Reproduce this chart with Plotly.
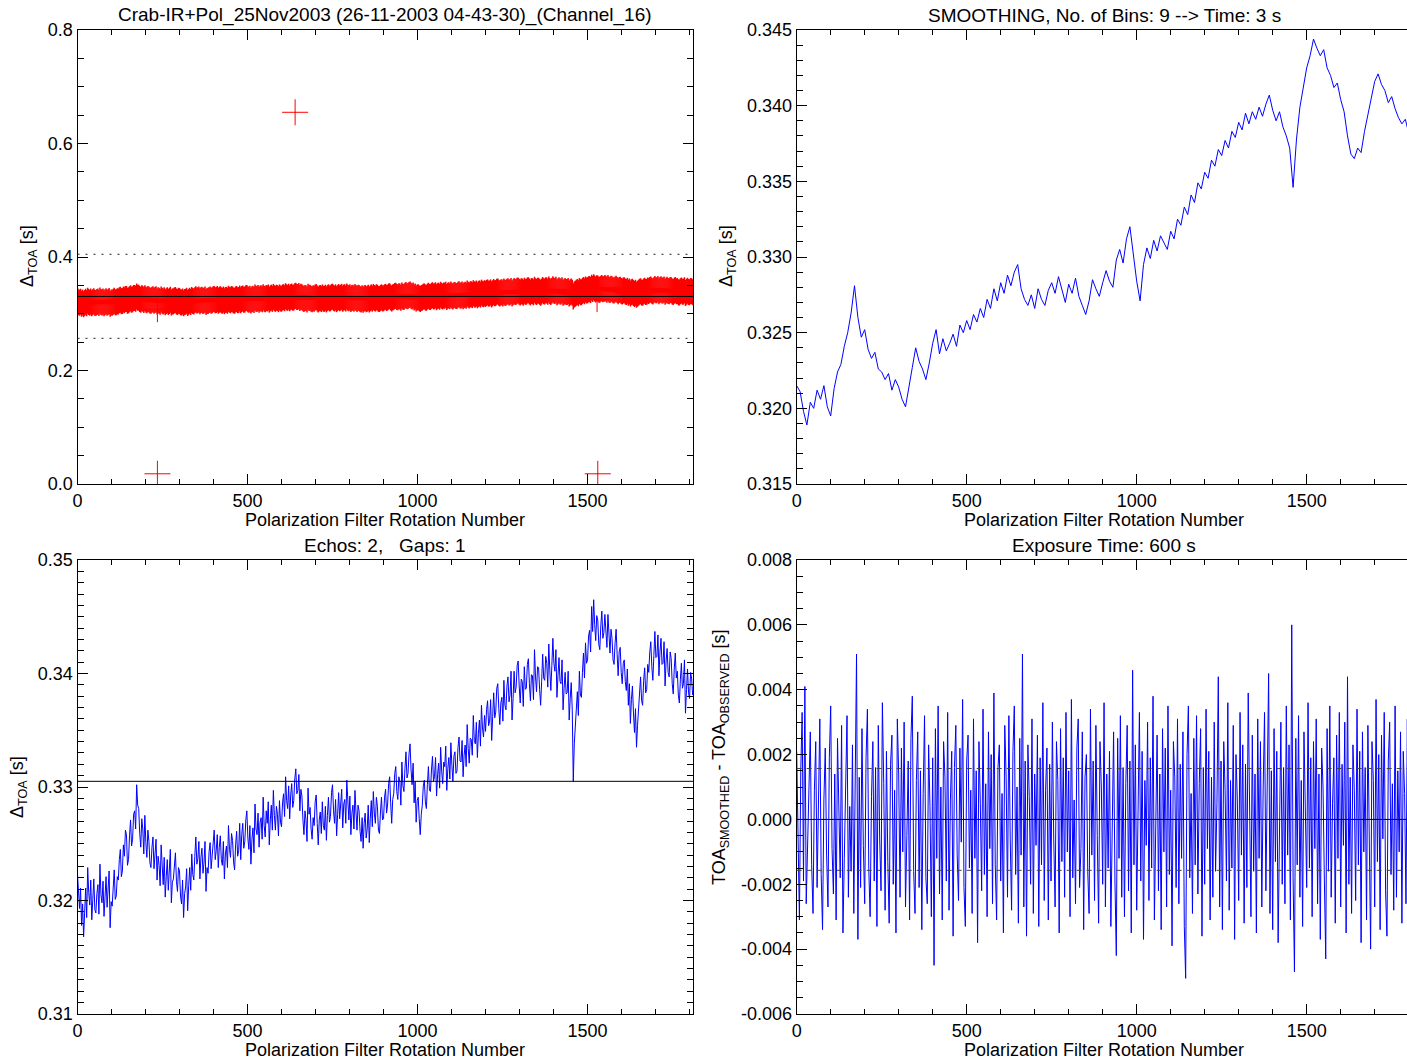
import plotly.graph_objects as go

# ---------------- data ----------------
# rotation numbers of the observed time-of-arrival differences
rotation_raw = list(range(0, 1810, 3))
delta_toa_raw = [
    0.3223, 0.3204, 0.3193, 0.3211, 0.3178, 0.3197, 0.3168, 0.3189, 0.3211, 0.3185, 0.3229, 0.3207, 0.3196, 0.3218, 0.3183, 0.3201, 0.3219, 0.3192, 0.3189, 0.3206,
    0.3214, 0.3188, 0.3232, 0.3205, 0.3198, 0.3217, 0.3186, 0.3203, 0.3221, 0.3194, 0.3209, 0.3226, 0.3176, 0.3199, 0.3195, 0.3213, 0.3227, 0.3201, 0.3204, 0.3221,
    0.3218, 0.3236, 0.3245, 0.3221, 0.3226, 0.3249, 0.3239, 0.3262, 0.3258, 0.3231, 0.3236, 0.3257, 0.3271, 0.3248, 0.3254, 0.3276, 0.3279, 0.3263, 0.3302, 0.3284,
    0.3281, 0.3259, 0.3247, 0.3272, 0.3263, 0.3241, 0.3275, 0.3251, 0.3238, 0.3262, 0.3252, 0.3233, 0.3229, 0.3247, 0.3256, 0.3228, 0.3241, 0.3254, 0.3218, 0.3239,
    0.3231, 0.3213, 0.3249, 0.3227, 0.3214, 0.3238, 0.3203, 0.3221, 0.3236, 0.3209, 0.3226, 0.3245, 0.3198, 0.3216, 0.3219, 0.3233, 0.3242, 0.3217, 0.3208, 0.3229,
    0.3226, 0.3204, 0.3197, 0.3218, 0.3185, 0.3206, 0.3212, 0.3228, 0.3191, 0.3213, 0.3229, 0.3209, 0.3241, 0.3223, 0.3218, 0.3239, 0.3256, 0.3232, 0.3237, 0.3252,
    0.3219, 0.3238, 0.3246, 0.3224, 0.3233, 0.3252, 0.3208, 0.3229, 0.3224, 0.3243, 0.3251, 0.3228, 0.3239, 0.3257, 0.3262, 0.3236, 0.3244, 0.3258, 0.3229, 0.3247,
    0.3257, 0.3236, 0.3231, 0.3252, 0.3219, 0.3241, 0.3248, 0.3229, 0.3266, 0.3245, 0.3238, 0.3259, 0.3253, 0.3234, 0.3227, 0.3249, 0.3261, 0.3239, 0.3244, 0.3268,
    0.3236, 0.3258, 0.3268, 0.3246, 0.3252, 0.3271, 0.3279, 0.3255, 0.3245, 0.3266, 0.3232, 0.3254, 0.3264, 0.3242, 0.3285, 0.3263, 0.3258, 0.3277, 0.3247, 0.3269,
    0.3273, 0.3254, 0.3291, 0.3266, 0.3256, 0.3279, 0.3268, 0.3287, 0.3249, 0.3271, 0.3284, 0.3262, 0.3297, 0.3275, 0.3262, 0.3283, 0.3276, 0.3257, 0.3288, 0.3269,
    0.3265, 0.3286, 0.3294, 0.3274, 0.3309, 0.3288, 0.3281, 0.3301, 0.3272, 0.3293, 0.3303, 0.3282, 0.3288, 0.3307, 0.3316, 0.3294, 0.3297, 0.3311, 0.3279, 0.3298,
    0.3292, 0.3271, 0.3258, 0.3279, 0.3271, 0.3252, 0.3299, 0.3276, 0.3282, 0.3263, 0.3254, 0.3273, 0.3266, 0.3287, 0.3293, 0.3268, 0.3249, 0.3271, 0.3278, 0.3259,
    0.3287, 0.3266, 0.3262, 0.3283, 0.3253, 0.3275, 0.3291, 0.3269, 0.3274, 0.3295, 0.3302, 0.3279, 0.3268, 0.3289, 0.3257, 0.3276, 0.3295, 0.3272, 0.3283, 0.3298,
    0.3264, 0.3285, 0.3289, 0.3268, 0.3306, 0.3283, 0.3271, 0.3292, 0.3258, 0.3277, 0.3284, 0.3263, 0.3297, 0.3278, 0.3262, 0.3284, 0.3279, 0.3261, 0.3252, 0.3273,
    0.3246, 0.3268, 0.3277, 0.3255, 0.3263, 0.3284, 0.3251, 0.3272, 0.3288, 0.3265, 0.3296, 0.3277, 0.3268, 0.3291, 0.3283, 0.3262, 0.3259, 0.3278, 0.3291, 0.3271,
    0.3272, 0.3291, 0.3298, 0.3277, 0.3285, 0.3303, 0.3309, 0.3286, 0.3268, 0.3289, 0.3294, 0.3312, 0.3318, 0.3296, 0.3289, 0.3309, 0.3305, 0.3284, 0.3322, 0.3301,
    0.3296, 0.3316, 0.3331, 0.3308, 0.3312, 0.3329, 0.3338, 0.3315, 0.3302, 0.3321, 0.3286, 0.3305, 0.3269, 0.3288, 0.3291, 0.3272, 0.3258, 0.3276, 0.3284, 0.3301,
    0.3306, 0.3287, 0.3281, 0.3302, 0.3318, 0.3297, 0.3296, 0.3315, 0.3327, 0.3305, 0.3309, 0.3326, 0.3292, 0.3311, 0.3321, 0.3299, 0.3335, 0.3314, 0.3303, 0.3322,
    0.3318, 0.3336, 0.3297, 0.3316, 0.3326, 0.3307, 0.3339, 0.3319, 0.3305, 0.3327, 0.3331, 0.3312, 0.3314, 0.3335, 0.3344, 0.3323, 0.3322, 0.3341, 0.3309, 0.3328,
    0.3337, 0.3318, 0.3355, 0.3334, 0.3321, 0.3343, 0.3342, 0.3328, 0.3363, 0.3341, 0.3338, 0.3357, 0.3326, 0.3347, 0.3359, 0.3336, 0.3372, 0.3352, 0.3344, 0.3363,
    0.3349, 0.3368, 0.3376, 0.3354, 0.3358, 0.3377, 0.3341, 0.3362, 0.3383, 0.3361, 0.3366, 0.3387, 0.3391, 0.3369, 0.3355, 0.3374, 0.3379, 0.3358, 0.3394, 0.3372,
    0.3368, 0.3389, 0.3397, 0.3375, 0.3381, 0.3402, 0.3359, 0.3378, 0.3402, 0.3383, 0.3388, 0.3407, 0.3411, 0.3389, 0.3374, 0.3395, 0.3393, 0.3371, 0.3406, 0.3386,
    0.3387, 0.3408, 0.3413, 0.3391, 0.3376, 0.3399, 0.3398, 0.3377, 0.3421, 0.3397, 0.3384, 0.3406, 0.3405, 0.3386, 0.3372, 0.3393, 0.3417, 0.3396, 0.3394, 0.3415,
    0.3409, 0.3388, 0.3426, 0.3403, 0.3385, 0.3407, 0.3431, 0.3409, 0.3402, 0.3421, 0.3379, 0.3398, 0.3414, 0.3393, 0.3391, 0.3412, 0.3368, 0.3387, 0.3401, 0.3382,
    0.3383, 0.3402, 0.3359, 0.3378, 0.3392, 0.3368, 0.3305, 0.3338, 0.3351, 0.3372, 0.3384, 0.3363, 0.3402, 0.3381, 0.3379, 0.3401, 0.3418, 0.3396, 0.3427, 0.3409,
    0.3412, 0.3433, 0.3438, 0.3419, 0.3459, 0.3437, 0.3465, 0.3443, 0.3429, 0.3451, 0.3447, 0.3426, 0.3421, 0.3442, 0.3455, 0.3431, 0.3436, 0.3452, 0.3441, 0.3423,
    0.3452, 0.3429, 0.3418, 0.3439, 0.3431, 0.3412, 0.3408, 0.3427, 0.3439, 0.3417, 0.3398, 0.3419, 0.3423, 0.3401, 0.3391, 0.3409, 0.3412, 0.3393, 0.3385, 0.3404,
    0.3372, 0.3391, 0.3356, 0.3377, 0.3389, 0.3366, 0.3348, 0.3369, 0.3335, 0.3354, 0.3368, 0.3387, 0.3397, 0.3376, 0.3372, 0.3394, 0.3405, 0.3383, 0.3386, 0.3408,
    0.3401, 0.3419, 0.3428, 0.3406, 0.3394, 0.3416, 0.3437, 0.3414, 0.3415, 0.3434, 0.3398, 0.3419, 0.3431, 0.3408, 0.3409, 0.3428, 0.3389, 0.3411, 0.3422, 0.3401,
    0.3397, 0.3419, 0.3413, 0.3391, 0.3382, 0.3404, 0.3418, 0.3396, 0.3402, 0.3381, 0.3374, 0.3395, 0.3409, 0.3387, 0.3391, 0.3412, 0.3365, 0.3386, 0.3404, 0.3383,
    0.3378, 0.3401, 0.3396, 0.3381,
]

# smoothed curve (9-bin running mean)
rotation_smooth = list(range(0, 1811, 10))
delta_toa_smooth = [
    0.3215, 0.3211, 0.3198, 0.3189, 0.3204, 0.3200, 0.3212, 0.3206, 0.3215, 0.3201,
    0.3195, 0.3213, 0.3224, 0.3229, 0.3241, 0.3250, 0.3263, 0.3281, 0.3260, 0.3247,
    0.3252, 0.3239, 0.3233, 0.3237, 0.3226, 0.3224, 0.3219, 0.3223, 0.3212, 0.3219,
    0.3214, 0.3206, 0.3201, 0.3213, 0.3227, 0.3240, 0.3231, 0.3226, 0.3219, 0.3230,
    0.3243, 0.3252, 0.3236, 0.3246, 0.3238, 0.3243, 0.3249, 0.3241, 0.3255, 0.3250,
    0.3258, 0.3252, 0.3262, 0.3257, 0.3266, 0.3260, 0.3272, 0.3266, 0.3279, 0.3271,
    0.3283, 0.3276, 0.3288, 0.3281, 0.3290, 0.3295, 0.3279, 0.3272, 0.3268, 0.3275,
    0.3266, 0.3279, 0.3272, 0.3268, 0.3278, 0.3283, 0.3276, 0.3287, 0.3279, 0.3270,
    0.3282, 0.3276, 0.3286, 0.3274, 0.3268, 0.3262, 0.3271, 0.3285, 0.3279, 0.3274,
    0.3283, 0.3291, 0.3284, 0.3280, 0.3298, 0.3305, 0.3296, 0.3312, 0.3320, 0.3303,
    0.3284, 0.3271, 0.3295, 0.3306, 0.3299, 0.3311, 0.3304, 0.3314, 0.3309, 0.3305,
    0.3317, 0.3312, 0.3325, 0.3321, 0.3333, 0.3328, 0.3341, 0.3336, 0.3349, 0.3345,
    0.3356, 0.3352, 0.3364, 0.3360, 0.3371, 0.3367, 0.3377, 0.3372, 0.3383, 0.3379,
    0.3389, 0.3384, 0.3395, 0.3388, 0.3396, 0.3391, 0.3399, 0.3393, 0.3401, 0.3407,
    0.3397, 0.3390, 0.3396, 0.3386, 0.3380, 0.3372, 0.3346, 0.3378, 0.3399, 0.3412,
    0.3425, 0.3433, 0.3444, 0.3438, 0.3433, 0.3437, 0.3425, 0.3420, 0.3412, 0.3415,
    0.3404, 0.3396, 0.3380, 0.3368, 0.3365, 0.3372, 0.3369, 0.3383, 0.3394, 0.3405,
    0.3416, 0.3421, 0.3414, 0.3410, 0.3402, 0.3406, 0.3398, 0.3392, 0.3388, 0.3391,
    0.3382, 0.3376,
]

# residuals: smoothed minus observed
rotation_resid = list(range(0, 1809, 4))
toa_residual = [
    0.0021, -0.0008, -0.0031, 0.0015, 0.0033, -0.0019, 0.0041, -0.0026, -0.0006, 0.0018,
    0.0027, -0.0014, -0.0029, 0.0009, 0.0024, -0.0021, 0.0012, 0.0031, -0.0017, -0.0034,
    0.0006, 0.0022, -0.0011, -0.0027, 0.0019, 0.0035, -0.0009, -0.0023, 0.0014, -0.0031,
    0.0025, 0.0008, -0.0018, 0.0029, -0.0035, -0.0012, 0.0017, 0.0032, -0.0024, 0.0004,
    -0.0016, 0.0023, -0.0029, 0.0011, 0.0051, -0.0037, 0.0013, -0.0021, 0.0028, -0.0008,
    -0.0026, 0.0019, 0.0034, -0.0015, -0.0030, 0.0007, 0.0024, -0.0019, 0.0016, -0.0033,
    0.0029, -0.0006, -0.0022, 0.0036, 0.0011, -0.0028, 0.0021, -0.0013, -0.0032, 0.0017,
    0.0026, -0.0020, 0.0009, -0.0035, 0.0031, 0.0014, -0.0024, 0.0022, -0.0010, 0.0030,
    -0.0027, -0.0005, 0.0018, -0.0031, 0.0025, 0.0038, -0.0016, -0.0029, 0.0012, 0.0027,
    -0.0021, 0.0015, -0.0034, 0.0008, 0.0032, -0.0018, -0.0026, 0.0023, 0.0004, -0.0030,
    0.0019, -0.0045, 0.0028, -0.0012, 0.0035, -0.0023, 0.0010, -0.0031, 0.0024, 0.0013,
    -0.0019, 0.0033, -0.0028, 0.0006, 0.0021, -0.0036, 0.0016, 0.0029, -0.0011, -0.0025,
    0.0022, -0.0007, 0.0037, -0.0021, -0.0033, 0.0018, 0.0026, -0.0015, 0.0009, -0.0029,
    0.0031, -0.0012, 0.0015, -0.0038, 0.0024, 0.0005, -0.0022, 0.0034, -0.0017, 0.0011,
    -0.0030, 0.0027, -0.0009, 0.0020, -0.0026, 0.0039, -0.0014, -0.0031, 0.0016, 0.0023,
    -0.0019, 0.0008, -0.0035, 0.0029, 0.0013, -0.0024, 0.0032, -0.0006, -0.0028, 0.0021,
    0.0035, -0.0017, 0.0010, -0.0032, 0.0025, -0.0011, 0.0051, -0.0027, 0.0018, -0.0036,
    0.0023, 0.0007, -0.0020, 0.0031, -0.0029, 0.0014, -0.0008, 0.0026, -0.0033, 0.0019,
    -0.0014, 0.0036, -0.0025, 0.0009, 0.0022, -0.0031, 0.0017, -0.0019, 0.0030, -0.0006,
    -0.0027, 0.0024, 0.0012, -0.0035, 0.0028, -0.0013, 0.0019, -0.0024, 0.0033, -0.0010,
    0.0015, -0.0030, 0.0037, -0.0018, 0.0006, -0.0026, 0.0022, 0.0031, -0.0021, -0.0009,
    0.0027, -0.0034, 0.0013, 0.0020, -0.0016, -0.0029, 0.0034, -0.0011, 0.0018, -0.0025,
    0.0029, -0.0005, -0.0032, 0.0024, 0.0010, -0.0020, 0.0036, -0.0027, 0.0014, -0.0015,
    0.0021, -0.0033, 0.0008, 0.0027, -0.0019, -0.0042, 0.0025, -0.0012, 0.0032, -0.0024,
    0.0016, -0.0030, 0.0011, 0.0029, -0.0022, 0.0018, -0.0035, 0.0046, -0.0014, 0.0023,
    -0.0028, 0.0007, 0.0033, -0.0019, 0.0021, -0.0037, 0.0012, -0.0008, 0.0030, -0.0025,
    0.0019, -0.0015, 0.0038, -0.0031, 0.0005, 0.0026, -0.0022, 0.0014, -0.0034, 0.0028,
    -0.0010, 0.0022, -0.0027, 0.0035, -0.0017, 0.0009, -0.0039, 0.0024, 0.0013, -0.0021,
    0.0031, -0.0026, 0.0017, -0.0012, 0.0027, -0.0033, -0.0049, 0.0020, 0.0035, -0.0018,
    0.0008, -0.0029, 0.0025, -0.0014, 0.0032, -0.0023, 0.0011, 0.0028, -0.0036, 0.0016,
    -0.0020, 0.0034, -0.0009, 0.0021, -0.0031, 0.0013, -0.0024, 0.0030, -0.0016, 0.0005,
    0.0044, -0.0027, 0.0018, -0.0034, 0.0024, 0.0009, -0.0019, 0.0036, -0.0028, 0.0012,
    -0.0015, 0.0029, -0.0037, 0.0020, 0.0006, -0.0025, 0.0033, -0.0011, 0.0023, -0.0032,
    0.0017, -0.0021, 0.0039, -0.0008, -0.0030, 0.0026, -0.0016, 0.0014, -0.0035, 0.0031,
    -0.0012, 0.0024, -0.0027, 0.0010, 0.0033, -0.0022, 0.0019, 0.0045, -0.0029, 0.0015,
    -0.0034, 0.0028, -0.0013, 0.0021, -0.0038, 0.0007, 0.0030, -0.0020, 0.0016, -0.0026,
    0.0035, -0.0011, 0.0023, -0.0031, 0.0060, -0.0018, -0.0047, 0.0025, -0.0014, 0.0032,
    -0.0024, 0.0012, -0.0033, 0.0027, 0.0008, -0.0021, 0.0036, -0.0015, 0.0019, -0.0030,
    0.0024, -0.0009, 0.0031, -0.0026, 0.0014, -0.0037, 0.0022, 0.0010, -0.0019, -0.0043,
    0.0028, -0.0016, 0.0035, -0.0024, 0.0005, 0.0019, -0.0032, 0.0026, -0.0012, 0.0033,
    -0.0027, 0.0017, -0.0008, 0.0030, -0.0035, 0.0044, -0.0020, 0.0013, -0.0029, 0.0023,
    0.0009, -0.0025, 0.0034, -0.0014, 0.0021, -0.0038, 0.0027, -0.0010, 0.0016, -0.0031,
    0.0029, -0.0018, -0.0040, 0.0024, 0.0012, -0.0027, 0.0037, -0.0013, 0.0020, -0.0034,
    0.0026, -0.0006, 0.0033, -0.0022, -0.0036, 0.0018, 0.0030, -0.0017, 0.0011, -0.0028,
    0.0035, -0.0024, 0.0015, -0.0010, 0.0027, -0.0032, 0.0021, 0.0008, -0.0026, 0.0031,
    -0.0019, 0.0024, -0.0013,
]

# flagged arrivals (echoes / gap fills) shown only in the full-range panel
flagged_rotation = [235, 640, 1530, 235, 1528]
flagged_delta_toa = [0.018, 0.655, 0.018, 0.308, 0.326]

mean_delta_toa = 0.3305
accept_upper = 0.4048
accept_lower = 0.2567
residual_limit = 0.00157

x_tick_vals = [0, 500, 1000, 1500]
y1_tick_vals = [0.0, 0.2, 0.4, 0.6, 0.8]
y1_tick_text = ["0.0", "0.2", "0.4", "0.6", "0.8"]
y2_tick_vals = [0.315, 0.320, 0.325, 0.330, 0.335, 0.340, 0.345]
y2_tick_text = ["0.315", "0.320", "0.325", "0.330", "0.335", "0.340", "0.345"]
y3_tick_vals = [0.31, 0.32, 0.33, 0.34, 0.35]
y3_tick_text = ["0.31", "0.32", "0.33", "0.34", "0.35"]
y4_tick_vals = [-0.006, -0.004, -0.002, 0.0, 0.002, 0.004, 0.006, 0.008]
y4_tick_text = ["-0.006", "-0.004", "-0.002", "0.000", "0.002", "0.004", "0.006", "0.008"]

# ---------------- layout helpers ----------------
W, H = 1407, 1064
FONT = "Liberation Sans, Arial, Helvetica, sans-serif"
FS = 18

X1_RANGE = [0, 1811]
X2_RANGE = [0, 1795]
Y1_RANGE = [0.0, 0.8]


def fx(p):
    return p / W


def fy(p):
    return 1 - p / H


LEFT_DOM = [fx(77.5), fx(693.3)]
RIGHT_DOM = [fx(796.7), 1.0]
TOP_DOM = [fy(484), fy(30)]
BOT_DOM = [fy(1014), fy(560)]

# plus-sign arm half lengths (13 px) in data units of the top-left panel
ARM_PX = 13
arm_x = ARM_PX * (X1_RANGE[1] - X1_RANGE[0]) / (693.3 - 77.5)
arm_y = ARM_PX * (Y1_RANGE[1] - Y1_RANGE[0]) / (484 - 30)


def axis_style(**kw):
    d = dict(
        showline=True, linecolor="black", linewidth=1,
        ticks="inside", ticklen=10, tickwidth=1, tickcolor="black",
        showgrid=False, zeroline=False,
        tickfont=dict(family=FONT, size=FS, color="black"),
    )
    d.update(kw)
    return d


def x_axis(domain, anchor, rng):
    return axis_style(
        domain=domain, anchor=anchor, range=rng, mirror="ticks",
        tickmode="array", tickvals=x_tick_vals,
        minor=dict(ticks="inside", ticklen=5, tickcolor="black", dtick=100, tick0=0, showgrid=False),
    )


def y_axis(domain, anchor, rng, vals, text, minor_step, mirror):
    return axis_style(
        domain=domain, anchor=anchor, range=rng, mirror=mirror,
        tickmode="array", tickvals=vals, ticktext=text,
        minor=dict(ticks="inside", ticklen=6, tickcolor="black", dtick=minor_step, tick0=rng[0], showgrid=False),
    )


def plus_marks(xs, ys, vert_thickness):
    return go.Scatter(
        x=xs, y=ys, mode="markers",
        marker=dict(size=1, color="red"),
        error_x=dict(type="constant", value=arm_x, color="red", thickness=1, width=0),
        error_y=dict(type="constant", value=arm_y, color="red", thickness=vert_thickness, width=0),
        xaxis="x", yaxis="y", showlegend=False, hoverinfo="skip",
    )


fig = go.Figure()

# top-left: all arrivals as plus symbols
fig.add_trace(plus_marks(rotation_raw, delta_toa_raw, 1.5))
fig.add_trace(plus_marks(flagged_rotation, flagged_delta_toa, 1))

# top-right: smoothed curve
fig.add_trace(go.Scatter(x=rotation_smooth, y=delta_toa_smooth, mode="lines",
                         line=dict(color="blue", width=1), xaxis="x2", yaxis="y2", showlegend=False))

# bottom-left: observed curve
fig.add_trace(go.Scatter(x=rotation_raw, y=delta_toa_raw, mode="lines",
                         line=dict(color="blue", width=1), xaxis="x3", yaxis="y3", showlegend=False))

# bottom-right: residuals
fig.add_trace(go.Scatter(x=rotation_resid, y=toa_residual, mode="lines",
                         line=dict(color="blue", width=1), xaxis="x4", yaxis="y4", showlegend=False))


# reference lines
def hline(xref, yref, y, dash="solid", color="black"):
    fig.add_shape(type="line", xref=xref, yref=yref, x0=0, x1=1, y0=y, y1=y,
                  line=dict(color=color, width=1, dash=dash), layer="above")


hline("x domain", "y", mean_delta_toa)
hline("x domain", "y", accept_upper, dash="2px,6px", color="#222")
hline("x domain", "y", accept_lower, dash="2px,6px", color="#222")
hline("x3 domain", "y3", mean_delta_toa)
hline("x4 domain", "y4", 0.0)
hline("x4 domain", "y4", residual_limit, dash="5px,5px", color="#444")
hline("x4 domain", "y4", -residual_limit, dash="5px,5px", color="#444")

fig.update_layout(
    width=W, height=H,
    margin=dict(l=0, r=0, t=0, b=0, pad=0, autoexpand=False),
    paper_bgcolor="white", plot_bgcolor="white",
    font=dict(family=FONT, size=FS, color="black"),
    xaxis=x_axis(LEFT_DOM, "y", X1_RANGE),
    yaxis=y_axis(TOP_DOM, "x", Y1_RANGE, y1_tick_vals, y1_tick_text, 0.05, "ticks"),
    xaxis2=x_axis(RIGHT_DOM, "y2", X2_RANGE),
    yaxis2=y_axis(TOP_DOM, "x2", [0.315, 0.345], y2_tick_vals, y2_tick_text, 0.001, False),
    xaxis3=x_axis(LEFT_DOM, "y3", X1_RANGE),
    yaxis3=y_axis(BOT_DOM, "x3", [0.31, 0.35], y3_tick_vals, y3_tick_text, 0.001, "ticks"),
    xaxis4=x_axis(RIGHT_DOM, "y4", X2_RANGE),
    yaxis4=y_axis(BOT_DOM, "x4", [-0.006, 0.008], y4_tick_vals, y4_tick_text, 0.0005, False),
    # right-hand tick marks of the right panels, whose frame runs off the page
    yaxis5=dict(overlaying="y2", anchor="free", position=1.0, side="right", range=[0.315, 0.345],
                showline=False, showgrid=False, zeroline=False, ticks="inside", ticklen=7,
                tickcolor="black", tickmode="array", tickvals=y2_tick_vals, showticklabels=False),
    yaxis6=dict(overlaying="y4", anchor="free", position=1.0, side="right", range=[-0.006, 0.008],
                showline=False, showgrid=False, zeroline=False, ticks="inside", ticklen=7,
                tickcolor="black", tickmode="array", tickvals=y4_tick_vals, showticklabels=False),
)


# texts
def label(text, px, py, angle=0, size=FS):
    fig.add_annotation(text=text, x=fx(px), y=fy(py), xref="paper", yref="paper",
                       showarrow=False, textangle=angle, xanchor="center", yanchor="middle",
                       font=dict(family=FONT, size=size, color="black"))


label("Crab-IR+Pol_25Nov2003 (26-11-2003 04-43-30)_(Channel_16)", 385, 15, size=19)
label("SMOOTHING, No. of Bins: 9 --> Time: 3 s", 1104, 15, size=19)
label("Echos: 2,\u00a0\u00a0\u00a0Gaps: 1", 385, 545, size=19)
label("Exposure Time: 600 s", 1104, 545, size=19)

label("Polarization Filter Rotation Number", 385, 520)
label("Polarization Filter Rotation Number", 1104, 520)
label("Polarization Filter Rotation Number", 385, 1050)
label("Polarization Filter Rotation Number", 1104, 1050)

label("\u0394<sub>TOA</sub> [s]", 28, 256, angle=-90)
label("\u0394<sub>TOA</sub> [s]", 727, 256, angle=-90)
label("\u0394<sub>TOA</sub> [s]", 18, 787, angle=-90)
label("TOA<sub>SMOOTHED</sub> - TOA<sub>OBSERVED</sub> [s]", 720, 757, angle=-90)

fig.write_html("out.html")
